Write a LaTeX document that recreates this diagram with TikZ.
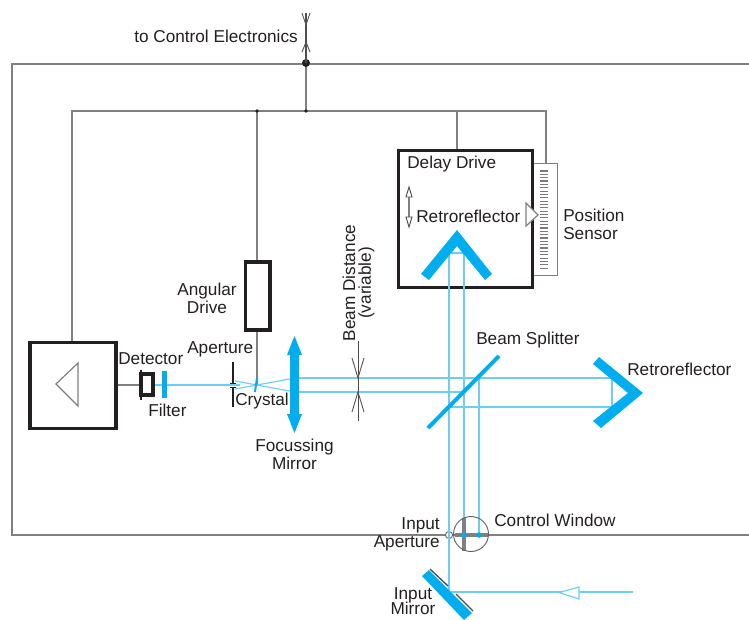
\documentclass[tikz,border=0pt]{standalone}
\usepackage{fontspec}
\setmainfont{Liberation Sans}
\definecolor{cy}{HTML}{00AEEF}
\definecolor{bm}{HTML}{6DCDF3}
\definecolor{gr}{HTML}{808080}
\definecolor{ink}{HTML}{231F20}
\tikzset{
 wire/.style={draw=gr,line width=0.9pt},
 beam/.style={draw=bm,line width=0.85pt},
 thick box/.style={draw=ink,line width=2.3pt,fill=white},
 lbl/.style={inner sep=0pt,text=ink,font=\fontsize{12.9}{12.9}\selectfont},
 chev/.style={draw=ink!75,line width=0.7pt},
 thinl/.style={draw=ink!80,line width=0.7pt},
}
\begin{document}
\begin{tikzpicture}[x=0.75pt,y=-0.75pt]
\useasboundingbox (0,0) rectangle (749,619);
\clip (0,0) rectangle (749,619);
% frame and wiring
\draw[wire] (749,64) -- (12,64) -- (12,535) -- (749,535);
\draw[wire] (72,342) -- (72,111) -- (546,111) -- (546,163);
\draw[wire] (306,64) -- (306,111);
\draw[wire] (257,111) -- (257,262);
\draw[wire] (457,111) -- (457,150);
\draw[wire] (257,330) -- (257,385);
\draw[wire] (116,385) -- (141,385);
% connection dots
\fill[ink] (306,63) circle (4);
\fill[ink] (306,111) circle (1.8);
\fill[ink] (257,111) circle (1.8);
% top signal arrows
\draw[thinl,line width=0.9pt] (306,13) -- (306,63);
\draw[chev] (302,13) -- (306,25) -- (310,13);
\draw[chev] (302,52) -- (306,42) -- (310,52);
% position sensor
\node[draw=gr,line width=0.7pt,fill=white,minimum width=18pt,minimum height=84pt,inner sep=0pt,anchor=north west] (sensor) at (533,163) {};
\foreach \i in {0,...,29} \draw[draw=ink!60,line width=0.85pt] (539.5,171+3.35*\i) -- (548,171+3.35*\i);
% delay drive box
\node[thick box,minimum width=101pt,minimum height=103pt,inner sep=0pt] (delay) at (465.5,219) {};
\draw[draw=gr,line width=0.9pt,fill=white] (526,203) -- (538,215) -- (526,226) -- cycle;
% angular drive, left box
\node[thick box,minimum width=18.7pt,minimum height=51pt,inner sep=0pt] (angular) at (257.5,296) {};
\node[thick box,minimum width=64.5pt,minimum height=65pt,inner sep=0pt] (electronics) at (73,385.5) {};
\draw[draw=gr,line width=0.9pt] (78,363) -- (56,384) -- (78,406) -- cycle;
% delay arrow
\draw[draw=gr,line width=0.9pt] (409,192) -- (409,222);
\draw[draw=ink!80,line width=0.7pt,fill=white] (409,187) -- (412,197) -- (406,197) -- cycle;
\draw[draw=ink!80,line width=0.7pt,fill=white] (409,227) -- (412,217) -- (406,217) -- cycle;
% beams
\draw[beam] (449,592) -- (449,253) -- (464,253) -- (464,535);
\draw[beam] (479,378) -- (479,535);
\draw[beam] (295,378) -- (612,378) -- (612,407) -- (449,407);
\draw[beam] (295,392) -- (464,392);
\draw[beam] (295,378) -- (235,389);
\draw[beam] (295,392) -- (235,381);
\draw[beam] (153,385) -- (240,385);
\draw[beam] (449,592) -- (633,592);
\draw[draw=bm,line width=0.85pt,fill=white] (559,592.5) -- (579,587) -- (579,599) -- cycle;
% retroreflectors, splitter
\fill[cy] (457,230) -- (492,274) -- (485,280) -- (457,246) -- (429,280) -- (421,274) -- cycle;
\fill[cy] (643,393) -- (601,428) -- (593,421) -- (628,393) -- (593,364) -- (599,357) -- cycle;
\draw[draw=cy,line width=3pt] (428,428) -- (499,356);
% focussing mirror
\fill[cy] (294.5,336) -- (302,355) -- (299,355) -- (299,414) -- (302,414) -- (294.5,433) -- (287,414) -- (290,414) -- (290,355) -- (287,355) -- cycle;
% crystal, aperture, filter, detector
\draw[draw=cy,line width=1.5pt] (257,378) -- (255,392);
\draw[draw=ink,line width=1.5pt] (233,362) -- (233,383) (233,387) -- (233,407);
\draw[draw=ink,line width=0.7pt] (230,383) -- (236,383) (230,387) -- (236,387);
\fill[cy] (162,371) rectangle (167,398);
\draw[draw=ink,line width=2.4pt] (141,374) rectangle (153,395);
\draw[draw=ink,line width=1.6pt] (141,370) -- (141,400);
% beam distance
\draw[thinl] (358,341) -- (358,421);
\draw[chev] (352,358) -- (358,378) -- (364,358);
\draw[chev] (352,412) -- (358,392) -- (364,412);
% control window
\draw[draw=gr,line width=3.2pt] (464,518) -- (464,551);
\draw[draw=gr,line width=3.2pt] (455,535) -- (488,535);
\draw[draw=ink!70,line width=0.7pt] (471,534) circle (17.5);
\fill[cy] (464,535) circle (2.8);
\fill[cy] (479,535) circle (2.8);
\draw[draw=ink!70,line width=0.7pt,fill=white] (449,535) circle (3.6);
\draw[beam] (449,530) -- (449,540);
% input mirror
\fill[cy] (422,576) -- (429,570) -- (472,613) -- (464,620) -- cycle;
\draw[draw=ink!80,line width=1pt] (430,569) -- (448,586) (456,594) -- (473,611);
% labels
\node[lbl,anchor=east] (tctrl) at (298,36) {to Control Electronics};
\node[lbl,anchor=west] (tdelay) at (407,164) {Delay Drive};
\node[lbl,anchor=west] (tretroa) at (416,216) {Retroreflector};
\node[lbl,anchor=west,align=left] (tpos) at (563,224.5) {Position\\[0.5pt]Sensor};
\node[lbl,rotate=90,align=center] (tbd) at (358.5,283) {Beam Distance\\[-1pt](variable)};
\node[lbl,align=center] (tang) at (207,298.5) {Angular\\[0.5pt]Drive};
\node[lbl,anchor=west] (tap) at (187,349) {Aperture};
\node[lbl,anchor=west] (tdet) at (118,359) {Detector};
\node[lbl,anchor=west] (tfil) at (148,410) {Filter};
\node[lbl,anchor=west] (tcry) at (235,401) {Crystal};
\node[lbl,align=center] (tfoc) at (294.5,454.5) {Focussing\\[0.5pt]Mirror};
\node[lbl,anchor=west] (tbs) at (476,340) {Beam Splitter};
\node[lbl,anchor=west] (tretrob) at (627,369) {Retroreflector};
\node[lbl,anchor=west] (tcw) at (494,520) {Control Window};
\node[lbl,align=right,anchor=east] (tia) at (440,534) {Input\\[0.5pt]Aperture};
\node[lbl,align=center] (tim) at (413,601.5) {Input\\[-1.5pt]Mirror};
\end{tikzpicture}
\end{document}
